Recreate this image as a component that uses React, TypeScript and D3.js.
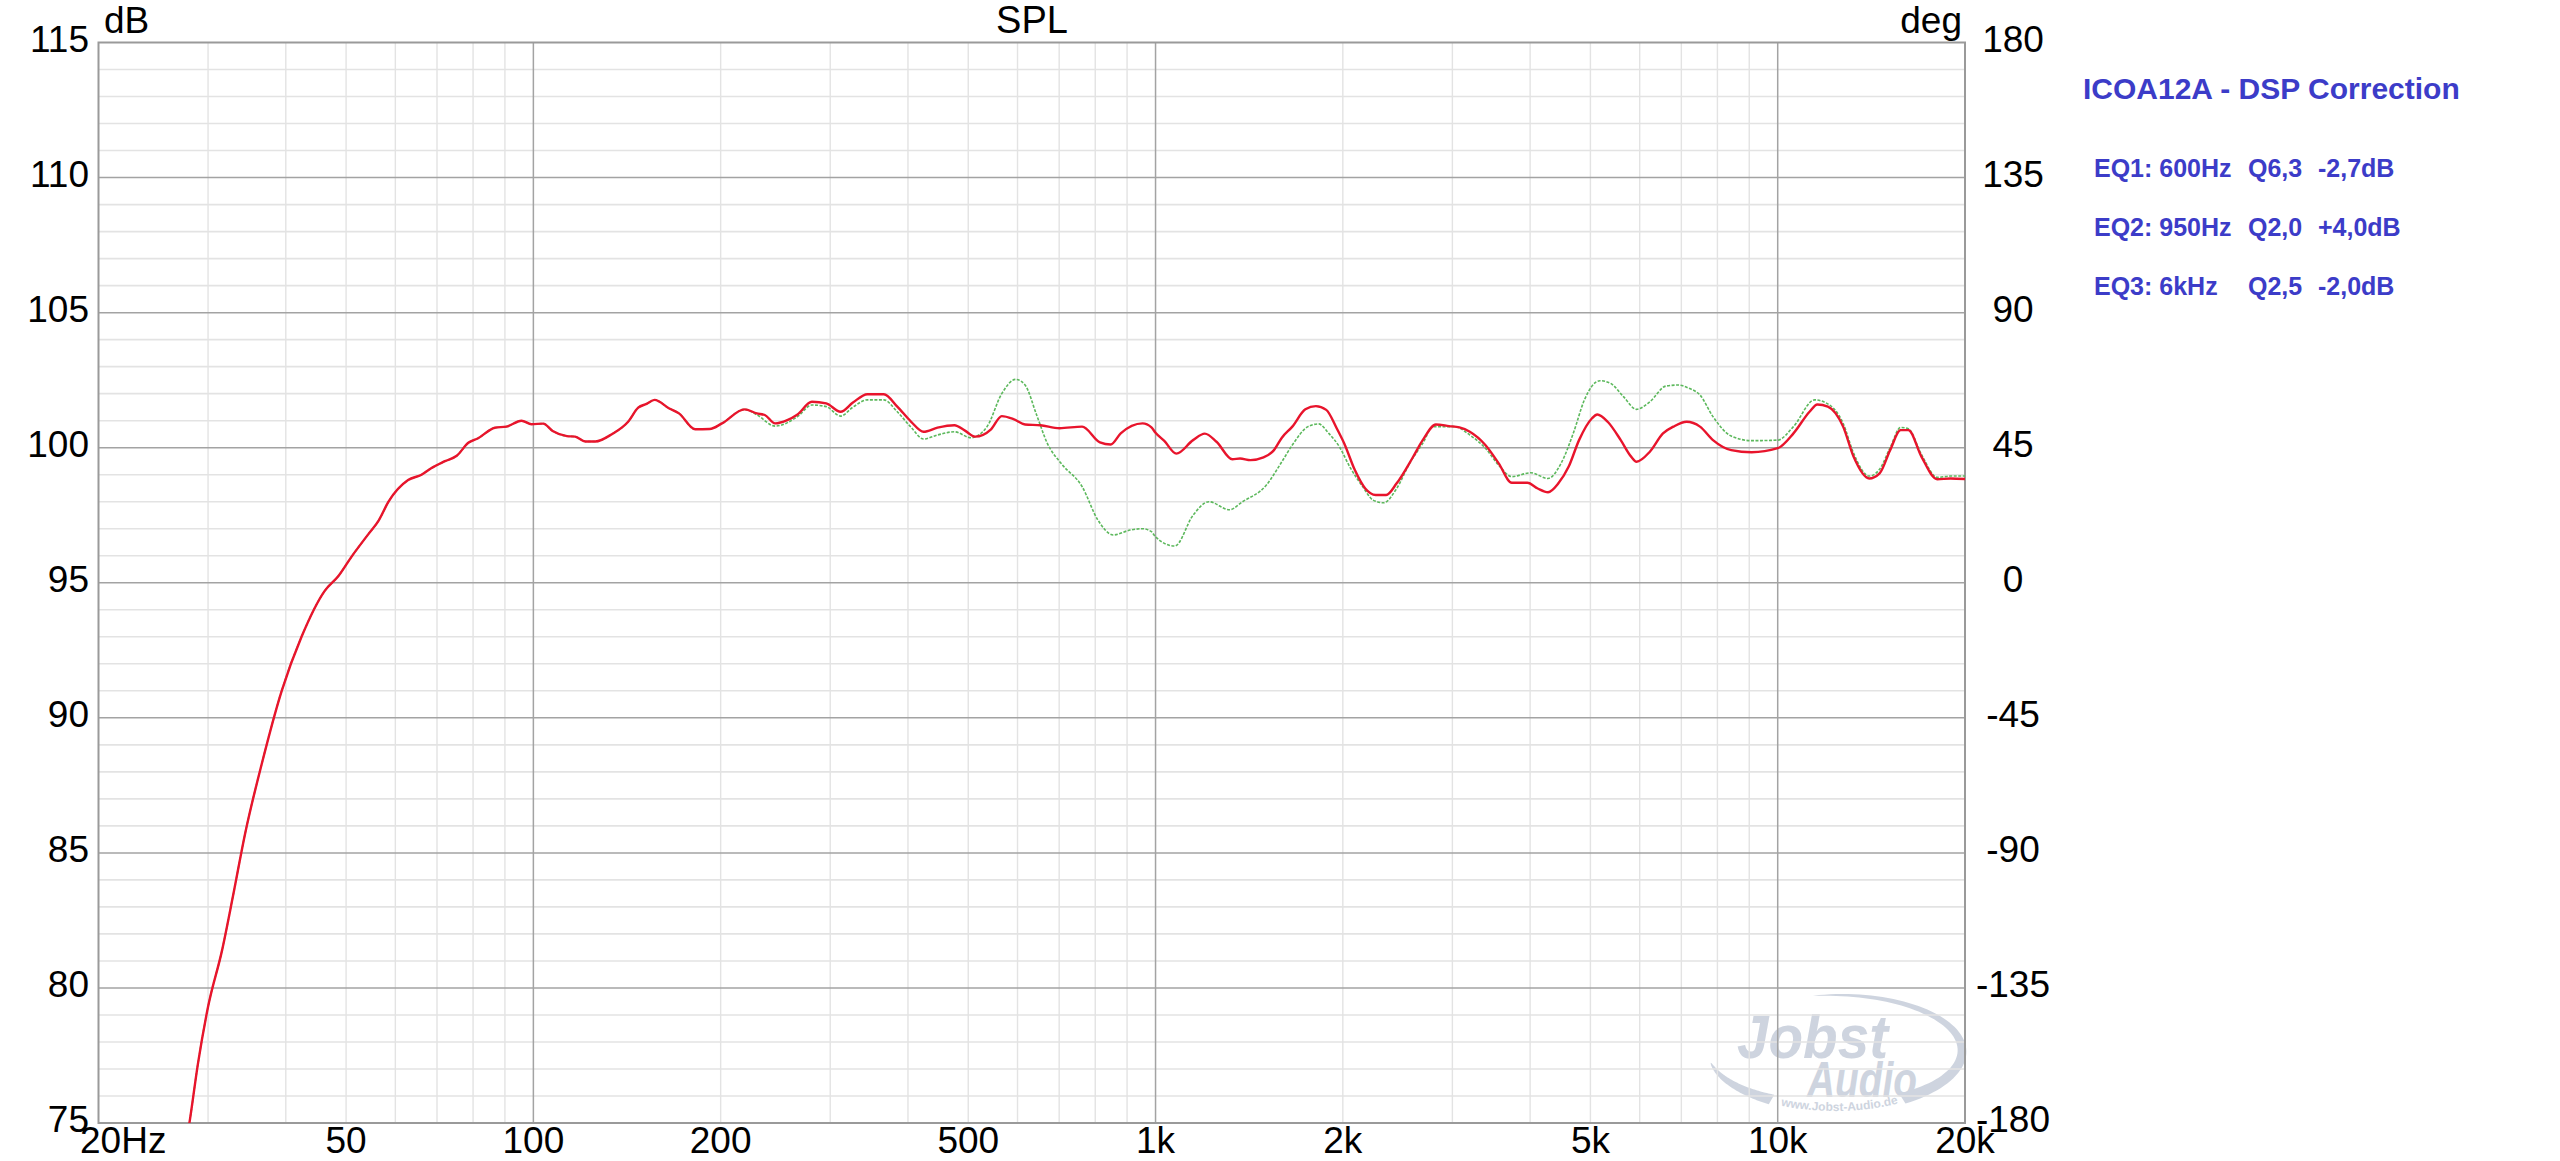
import React from 'react';
import * as d3 from 'd3';

const W = 2560;
const H = 1161;
const plot = { left: 98.5, right: 1965, top: 42.5, bottom: 1123 };

// frequency axis labels
const freqTicks = [20, 50, 100, 200, 500, 1000, 2000, 5000, 10000, 20000];
const freqLabels = ['20Hz', '50', '100', '200', '500', '1k', '2k', '5k', '10k', '20k'];
const dbTicks = [75, 80, 85, 90, 95, 100, 105, 110, 115];
const degTicks = [-180, -135, -90, -45, 0, 45, 90, 135, 180];

// corrected response (red)
const redFreq = [26, 28, 28.9, 30, 31.6, 32.9, 34.4, 36.6, 39.4, 42.4, 46.2, 48.6, 51, 54.3, 56.4, 58.5, 62.9, 66.1, 68.5, 72.1, 75.3, 78.6, 81.5, 86.7, 90.5, 95.7, 99.3, 103.7, 107.4, 113.2, 116.7, 121.2, 125.8, 133.7, 142, 147.4, 152, 156.6, 165.1, 171.4, 182, 192, 201, 218.5, 228.6, 235.5, 244.6, 255.9, 265.8, 280.3, 295.6, 311.7, 326.3, 344.2, 365.8, 384.5, 404.8, 423.7, 446.2, 475, 494, 513, 544, 566, 591, 617, 653, 701, 762, 814, 847, 879, 953, 985, 1000, 1033, 1080, 1149, 1200, 1253, 1329, 1367, 1421, 1491, 1550, 1596, 1659, 1741, 1810, 1881, 1955, 2012, 2091, 2173, 2259, 2348, 2441, 2585, 2688, 2822, 2963, 3079, 3200, 3389, 3561, 3738, 3960, 4114, 4274, 4441, 4614, 4794, 5030, 5129, 5330, 5594, 5813, 5930, 6230, 6540, 6799, 7140, 7500, 7870, 8420, 9080, 10000, 10600, 11250, 11580, 12040, 12740, 13240, 14030, 14580, 15160, 15760, 16220, 17020, 18050, 18950, 20000];
const redDb = [71.5, 75, 77.2, 79.3, 81.4, 83.4, 85.7, 88.3, 91, 93, 94.7, 95.25, 95.96, 96.8, 97.3, 98, 98.8, 99, 99.24, 99.5, 99.7, 100.18, 100.35, 100.74, 100.78, 101, 100.87, 100.89, 100.62, 100.43, 100.41, 100.23, 100.23, 100.5, 100.96, 101.48, 101.62, 101.77, 101.46, 101.27, 100.68, 100.69, 100.9, 101.42, 101.27, 101.21, 100.9, 101.02, 101.23, 101.7, 101.64, 101.33, 101.67, 101.98, 101.98, 101.52, 100.96, 100.59, 100.74, 100.83, 100.63, 100.41, 100.68, 101.17, 101.06, 100.86, 100.83, 100.72, 100.78, 100.2, 100.12, 100.53, 100.9, 100.75, 100.55, 100.25, 99.78, 100.28, 100.52, 100.22, 99.57, 99.6, 99.54, 99.64, 99.91, 100.37, 100.78, 101.42, 101.54, 101.4, 100.72, 100.14, 99.17, 98.49, 98.25, 98.25, 98.68, 99.6, 100.28, 100.86, 100.8, 100.75, 100.59, 100.1, 99.42, 98.7, 98.7, 98.49, 98.35, 98.68, 99.3, 100.28, 101.09, 101.23, 100.96, 100.28, 99.67, 99.48, 99.85, 100.53, 100.78, 100.96, 100.78, 100.28, 99.91, 99.83, 99.98, 100.53, 101.33, 101.6, 101.52, 100.78, 99.67, 98.86, 99.05, 99.91, 100.65, 100.65, 99.67, 98.83, 98.86, 98.84];

// uncorrected response (green dotted)
const greenFreq = [26, 28, 28.9, 30, 31.6, 32.9, 34.4, 36.6, 39.4, 42.4, 46.2, 48.6, 51, 54.3, 56.4, 58.5, 62.9, 66.1, 68.5, 72.1, 75.3, 78.6, 81.5, 86.7, 90.5, 95.7, 99.3, 103.7, 107.4, 113.2, 116.7, 121.2, 125.8, 133.7, 142, 147.4, 152, 156.6, 165.1, 171.4, 182, 192, 201, 218.5, 228.6, 244.6, 265.8, 280.3, 295.6, 311.7, 326.3, 344.2, 365.8, 384.5, 404.8, 423.7, 446.2, 475, 505, 536, 566, 596, 617, 644, 670, 705, 762, 808, 855, 910, 953, 985, 1000, 1074, 1149, 1218, 1315, 1380, 1505, 1596, 1659, 1758, 1828, 1899, 1974, 2051, 2152, 2237, 2326, 2441, 2561, 2688, 2795, 3020, 3200, 3389, 3561, 3738, 4009, 4274, 4485, 4702, 4890, 5180, 5390, 5650, 5930, 6230, 6610, 6920, 7200, 7500, 7870, 8420, 9080, 10000, 10600, 11460, 11930, 12740, 13240, 14030, 14580, 15160, 15760, 16220, 17020, 18050, 18950, 20000];
const greenDb = [71.5, 75, 77.2, 79.3, 81.4, 83.4, 85.7, 88.3, 91, 93, 94.7, 95.25, 95.96, 96.8, 97.3, 98, 98.8, 99, 99.24, 99.5, 99.7, 100.18, 100.35, 100.74, 100.78, 101, 100.87, 100.89, 100.62, 100.43, 100.41, 100.23, 100.23, 100.5, 100.96, 101.48, 101.62, 101.77, 101.46, 101.27, 100.68, 100.69, 100.9, 101.42, 101.22, 100.8, 101.15, 101.58, 101.52, 101.17, 101.5, 101.77, 101.77, 101.33, 100.75, 100.32, 100.47, 100.59, 100.37, 100.78, 102.0, 102.53, 102.32, 101.21, 100.16, 99.42, 98.56, 97.32, 96.77, 96.95, 97.0, 96.89, 96.7, 96.36, 97.5, 98.0, 97.7, 98.0, 98.6, 99.48, 100.1, 100.78, 100.88, 100.53, 100.04, 99.3, 98.56, 98.06, 97.96, 98.49, 99.42, 100.16, 100.78, 100.78, 100.47, 99.98, 99.35, 98.93, 99.07, 98.86, 99.42, 100.59, 101.77, 102.48, 102.38, 101.89, 101.42, 101.7, 102.28, 102.32, 102.2, 101.95, 101.15, 100.43, 100.26, 100.28, 100.78, 101.77, 101.67, 100.9, 99.8, 98.95, 99.2, 100.0, 100.75, 100.7, 99.75, 98.9, 98.95, 98.95];

const legendTitle = 'ICOA12A - DSP Correction';
const eqNames = ['EQ1: 600Hz', 'EQ2: 950Hz', 'EQ3: 6kHz'];
const eqQ = ['Q6,3', 'Q2,0', 'Q2,5'];
const eqGain = ['-2,7dB', '+4,0dB', '-2,0dB'];

const x = d3.scaleLog().domain([20, 20000]).range([plot.left, plot.right]);
const y = d3.scaleLinear().domain([75, 115]).range([plot.bottom, plot.top]);
const yDeg = d3.scaleLinear().domain([-180, 180]).range([plot.bottom, plot.top]);

const minorFreqs: number[] = [];
[10, 100, 1000, 10000].forEach((dec) => {
  for (let k = 2; k <= 9; k++) {
    const f = dec * k;
    if (f > 20 && f < 20000) minorFreqs.push(f);
  }
});
const majorFreqs = [100, 1000, 10000];
const minorDb = d3.range(76, 115).filter((d) => d % 5 !== 0);
const majorDb = [80, 85, 90, 95, 100, 105, 110];

const line = d3.line<[number, number]>()
  .x((d) => x(d[0]))
  .y((d) => y(d[1]))
  .curve(d3.curveMonotoneX);

const redPts = redFreq.map((f, i) => [f, redDb[i]] as [number, number]);
const greenPts = greenFreq.map((f, i) => [f, greenDb[i]] as [number, number]);

// watermark swoosh (an ellipse broken at the bottom by the url)
const wm = { cx: 1835, cy: 1051, rx: 127, ry: 56 };
const rad = (a: number) => (a * Math.PI) / 180;
function swoosh(a0: number, a1: number, wMax: number, taper: (u: number) => number) {
  const n = 60;
  const outer: [number, number][] = [];
  const inner: [number, number][] = [];
  for (let i = 0; i <= n; i++) {
    const u = i / n;
    const th = rad(a0 + (a1 - a0) * u);
    const w = wMax * taper(u);
    outer.push([wm.cx + (wm.rx + w / 2) * Math.cos(th), wm.cy + (wm.ry + w / 2) * Math.sin(th)]);
    inner.push([wm.cx + (wm.rx - w / 2) * Math.cos(th), wm.cy + (wm.ry - w / 2) * Math.sin(th)]);
  }
  return d3.line()(outer.concat(inner.reverse())) + 'Z';
}
function urlArc() {
  const pts: [number, number][] = [];
  for (let i = 0; i <= 40; i++) {
    const th = rad(125 - (75 * i) / 40);
    pts.push([wm.cx + wm.rx * Math.cos(th), wm.cy + wm.ry * Math.sin(th) + 4]);
  }
  return d3.line()(pts);
}

const font = '"Liberation Sans", Arial, sans-serif';
const blue = '#3c3cc8';

export default function App() {
  return (
    <svg width={W} height={H} style={{ position: 'absolute', left: 0, top: 0, background: '#fff' }} fontFamily={font}>
      <defs>
        <clipPath id="plotClip">
          <rect x={plot.left} y={plot.top} width={plot.right - plot.left} height={plot.bottom - plot.top} />
        </clipPath>
        <path id="urlArc" d={urlArc() || ''} />
      </defs>
      <rect width={W} height={H} fill="#fff" />

      {/* watermark */}
      <g fill="#c9d0dc" opacity={0.9}>
        <path d={swoosh(168, 120, 11, (u) => Math.pow(u, 0.6))} />
        <path d={swoosh(58, -100, 12, (u) => Math.pow(1 - u, 0.7))} />
        <text x={1737} y={1058} fontSize={62} fontWeight="bold" fontStyle="italic" textLength={151} lengthAdjust="spacingAndGlyphs">Jobst</text>
        <text x={1807} y={1097} fontSize={50} fontWeight="bold" fontStyle="italic" textLength={110} lengthAdjust="spacingAndGlyphs">Audio</text>
        <text fontSize={12} fontWeight="bold">
          <textPath href="#urlArc" startOffset="50%" textAnchor="middle">www.Jobst-Audio.de</textPath>
        </text>
      </g>

      {/* grid */}
      <g>
        {minorDb.map((d) => (
          <line key={'hm' + d} x1={plot.left} x2={plot.right} y1={y(d)} y2={y(d)} stroke="#e3e3e3" strokeWidth={1.6} />
        ))}
        {minorFreqs.map((f) => (
          <line key={'vm' + f} x1={x(f)} x2={x(f)} y1={plot.top} y2={plot.bottom} stroke="#e3e3e3" strokeWidth={1.4} />
        ))}
        {majorDb.map((d) => (
          <line key={'hM' + d} x1={plot.left} x2={plot.right} y1={y(d)} y2={y(d)} stroke="#a3a3a3" strokeWidth={1.5} />
        ))}
        {majorFreqs.map((f) => (
          <line key={'vM' + f} x1={x(f)} x2={x(f)} y1={plot.top} y2={plot.bottom} stroke="#a3a3a3" strokeWidth={1.5} />
        ))}
        <rect x={plot.left} y={plot.top} width={plot.right - plot.left} height={plot.bottom - plot.top} fill="none" stroke="#9a9a9a" strokeWidth={2} />
      </g>

      {/* curves */}
      <g clipPath="url(#plotClip)" fill="none">
        <path d={line(greenPts) || ''} stroke="#5cb85c" strokeWidth={1.6} strokeDasharray="3 1.5" />
        <path d={line(redPts) || ''} stroke="#e8142c" strokeWidth={2.4} />
      </g>

      {/* axes labels */}
      <g fontSize={37} fill="#000">
        {dbTicks.map((d) => (
          <text key={'l' + d} x={89} y={y(d) + 9} textAnchor="end">{d}</text>
        ))}
        {degTicks.map((d) => (
          <text key={'r' + d} x={2013} y={yDeg(d) + 9} textAnchor="middle">{d}</text>
        ))}
        {freqTicks.map((f, i) => (
          i === 0
            ? <text key={'f' + f} x={x(f) - 18.5} y={1153} textAnchor="start">{freqLabels[i]}</text>
            : <text key={'f' + f} x={x(f)} y={1153} textAnchor="middle">{freqLabels[i]}</text>
        ))}
        <text x={104} y={33}>dB</text>
        <text x={1962} y={33} textAnchor="end">deg</text>
        <text x={1032} y={33} textAnchor="middle" fontSize={38}>SPL</text>
      </g>

      {/* legend */}
      <g fill={blue} fontWeight="bold">
        <text x={2083} y={99} fontSize={30}>{legendTitle}</text>
        {eqNames.map((n, i) => (
          <g key={n} fontSize={25}>
            <text x={2094} y={177 + i * 59}>{n}</text>
            <text x={2248} y={177 + i * 59}>{eqQ[i]}</text>
            <text x={2318} y={177 + i * 59}>{eqGain[i]}</text>
          </g>
        ))}
      </g>
    </svg>
  );
}
